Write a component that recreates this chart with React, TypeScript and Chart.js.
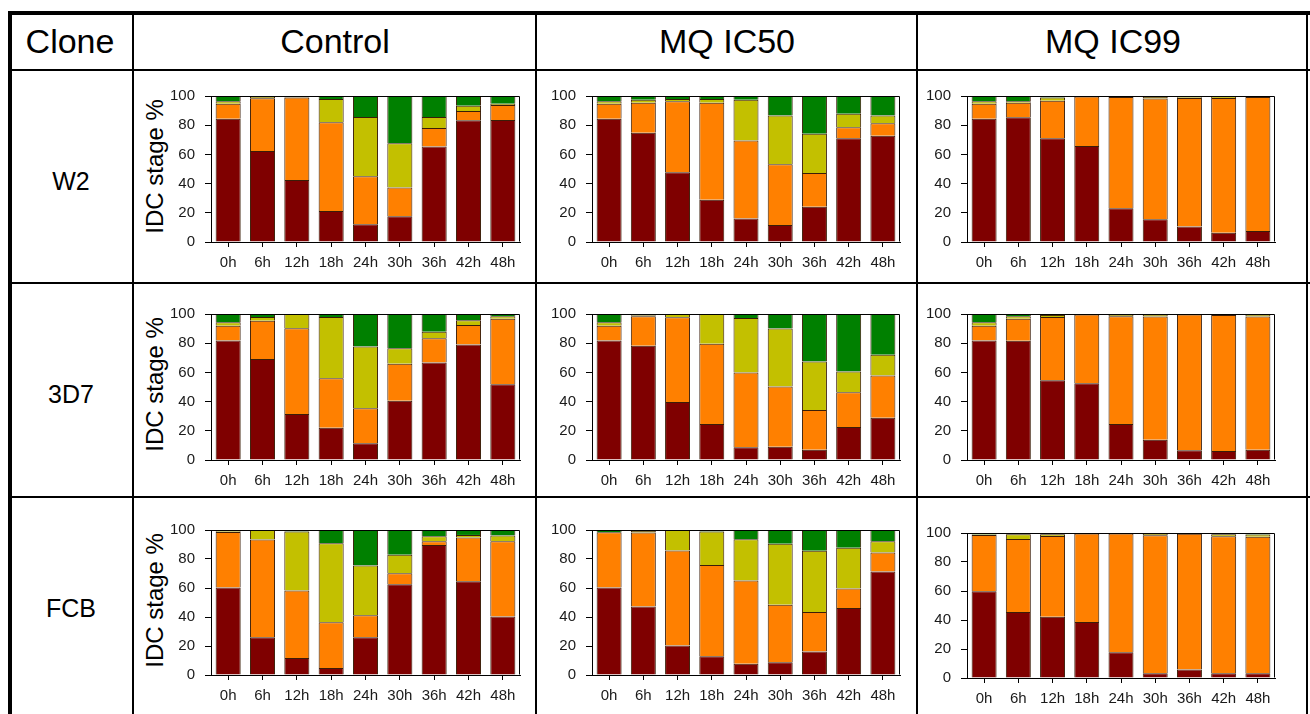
import { useEffect, useRef } from "react";
import { Chart, registerables } from "chart.js";

Chart.register(...registerables);

const FONT = "'Liberation Sans', Arial, Helvetica, sans-serif";

// Time points of the intraerythrocytic development cycle
const HOURS = ["0h", "6h", "12h", "18h", "24h", "30h", "36h", "42h", "48h"];
const Y_TICKS = [0, 20, 40, 60, 80, 100];

const CLONES = ["W2", "3D7", "FCB"];
const TREATMENTS = ["Control", "MQ IC50", "MQ IC99"];

// Stage colours (bottom to top of each stacked bar)
const RING_COLOR = "#7f0000";
const TROPH_COLOR = "#ff8000";
const SCHIZ_COLOR = "#c3c000";
const SEG_COLOR = "#008000";

// ---- W2 ----
const W2_CONTROL_RING = [84.5, 62.4, 42.5, 21.2, 12.1, 17.6, 65.4, 83.4, 83.6];
const W2_CONTROL_TROPH = [10.2, 36.1, 56.5, 60.8, 32.9, 19.8, 12.7, 6.4, 10.2];
const W2_CONTROL_SCHIZ = [1.7, 0.8, 0.3, 15.9, 40.6, 30.3, 7.5, 3.6, 0.9];
const W2_CONTROL_SEG = [3.6, 0.7, 0.7, 2.1, 14.4, 32.3, 14.4, 6.6, 5.3];

const W2_IC50_RING = [84.5, 74.9, 47.8, 28.9, 16.1, 11.7, 24.2, 71.1, 72.8];
const W2_IC50_TROPH = [10.2, 20.4, 48.6, 66.4, 53.5, 41.6, 23.1, 7.5, 8.5];
const W2_IC50_SCHIZ = [1.7, 2.2, 1.5, 2.6, 27.9, 33.3, 26.8, 9.3, 5.3];
const W2_IC50_SEG = [3.6, 2.5, 2.1, 2.1, 2.5, 13.4, 25.9, 12.1, 13.4];

const W2_IC99_RING = [84.5, 85.4, 71.1, 65.8, 23.1, 15.5, 10.6, 6.4, 7.6];
const W2_IC99_TROPH = [10.2, 9.9, 25.7, 33.8, 76.3, 82.8, 88.1, 92.3, 91.8];
const W2_IC99_SCHIZ = [1.7, 1.1, 2.2, 0.2, 0.3, 1.1, 0.5, 0.9, 0.3];
const W2_IC99_SEG = [3.6, 3.6, 1.0, 0.2, 0.3, 0.6, 0.8, 0.4, 0.3];

// ---- 3D7 ----
const D7_CONTROL_RING = [81.9, 69.1, 31.5, 22.1, 11.5, 40.6, 66.8, 79.1, 51.9];
const D7_CONTROL_TROPH = [10.0, 26.2, 58.7, 33.9, 24.0, 25.4, 16.6, 13.4, 44.9];
const D7_CONTROL_SCHIZ = [2.4, 2.6, 9.8, 41.9, 42.2, 10.6, 4.5, 3.2, 1.7];
const D7_CONTROL_SEG = [5.7, 2.1, 0, 2.1, 22.3, 23.4, 12.1, 4.3, 1.5];

const D7_IC50_RING = [81.9, 78.3, 39.8, 24.7, 8.7, 9.1, 7.0, 22.6, 28.9];
const D7_IC50_TROPH = [10.0, 20.2, 57.9, 54.9, 51.3, 41.3, 27.3, 23.8, 29.0];
const D7_IC50_SCHIZ = [2.4, 0.6, 2.3, 20.4, 37.2, 39.6, 33.1, 14.2, 14.2];
const D7_IC50_SEG = [5.7, 0.9, 0, 0, 2.8, 10.0, 32.6, 39.4, 27.9];

const D7_IC99_RING = [81.9, 81.7, 54.7, 52.6, 24.7, 13.8, 6.6, 6.2, 7.0];
const D7_IC99_TROPH = [10.0, 15.1, 43.2, 47.0, 73.8, 84.5, 93.0, 93.2, 91.3];
const D7_IC99_SCHIZ = [2.4, 1.7, 1.5, 0.2, 0.8, 1.3, 0.2, 0.3, 1.3];
const D7_IC99_SEG = [5.7, 1.5, 0.6, 0.2, 0.7, 0.4, 0.2, 0.3, 0.4];

// ---- FCB ----
const FCB_CONTROL_RING = [60.3, 26.1, 11.8, 4.9, 26.1, 62.6, 89.7, 64.7, 40.4];
const FCB_CONTROL_TROPH = [38.4, 67.3, 46.5, 31.4, 15.1, 7.5, 2.6, 30.2, 51.9];
const FCB_CONTROL_SCHIZ = [0.4, 6.6, 40.6, 54.5, 34.4, 12.8, 3.4, 1.7, 3.9];
const FCB_CONTROL_SEG = [0.9, 0, 1.1, 9.2, 24.4, 17.1, 4.3, 3.4, 3.8];

const FCB_IC50_RING = [60.3, 47.2, 20.3, 13.0, 7.7, 8.8, 16.2, 46.2, 71.4];
const FCB_IC50_TROPH = [38.2, 51.1, 65.6, 62.9, 57.5, 39.7, 27.2, 13.4, 13.0];
const FCB_IC50_SCHIZ = [0, 1.1, 14.1, 23.0, 28.4, 42.1, 42.3, 28.2, 7.9];
const FCB_IC50_SEG = [1.5, 0.6, 0, 1.1, 6.4, 9.4, 14.3, 12.2, 7.7];

const FCB_IC99_RING = [59.9, 45.6, 42.2, 38.6, 17.7, 3.2, 5.8, 3.2, 3.2];
const FCB_IC99_TROPH = [38.8, 50.3, 55.7, 61.0, 81.9, 95.3, 93.6, 94.5, 94.2];
const FCB_IC99_SCHIZ = [0.2, 3.2, 1.2, 0.2, 0.2, 1.1, 0.3, 1.4, 1.5];
const FCB_IC99_SEG = [1.1, 0.9, 0.9, 0.2, 0.2, 0.4, 0.3, 0.9, 1.1];

type Panel = {
  row: number;
  col: number;
  ring: number[];
  troph: number[];
  schiz: number[];
  seg: number[];
};

const PANELS: Panel[] = [
  { row: 0, col: 0, ring: W2_CONTROL_RING, troph: W2_CONTROL_TROPH, schiz: W2_CONTROL_SCHIZ, seg: W2_CONTROL_SEG },
  { row: 0, col: 1, ring: W2_IC50_RING, troph: W2_IC50_TROPH, schiz: W2_IC50_SCHIZ, seg: W2_IC50_SEG },
  { row: 0, col: 2, ring: W2_IC99_RING, troph: W2_IC99_TROPH, schiz: W2_IC99_SCHIZ, seg: W2_IC99_SEG },
  { row: 1, col: 0, ring: D7_CONTROL_RING, troph: D7_CONTROL_TROPH, schiz: D7_CONTROL_SCHIZ, seg: D7_CONTROL_SEG },
  { row: 1, col: 1, ring: D7_IC50_RING, troph: D7_IC50_TROPH, schiz: D7_IC50_SCHIZ, seg: D7_IC50_SEG },
  { row: 1, col: 2, ring: D7_IC99_RING, troph: D7_IC99_TROPH, schiz: D7_IC99_SCHIZ, seg: D7_IC99_SEG },
  { row: 2, col: 0, ring: FCB_CONTROL_RING, troph: FCB_CONTROL_TROPH, schiz: FCB_CONTROL_SCHIZ, seg: FCB_CONTROL_SEG },
  { row: 2, col: 1, ring: FCB_IC50_RING, troph: FCB_IC50_TROPH, schiz: FCB_IC50_SCHIZ, seg: FCB_IC50_SEG },
  { row: 2, col: 2, ring: FCB_IC99_RING, troph: FCB_IC99_TROPH, schiz: FCB_IC99_SCHIZ, seg: FCB_IC99_SEG },
];

// Plot-area placement inside the table grid
const COL_X: [number, number][] = [
  [211, 520],
  [592, 900],
  [967, 1275],
];
const ROW_Y: [number, number][] = [
  [85, 242],
  [303, 460],
  [519, 675],
];

const PAD_TOP = 8;
const PAD_RIGHT = 8;
const Y_AXIS_W = 50;
const X_AXIS_H = 34;

// Closes the plot box on the top and right sides
const framePlugin = {
  id: "plotFrame",
  afterDraw(chart: any) {
    const { ctx, chartArea: a } = chart;
    ctx.save();
    ctx.strokeStyle = "#000";
    ctx.lineWidth = 1;
    const l = Math.round(a.left) + 0.5;
    const t = Math.round(a.top) + 0.5;
    const r = Math.round(a.right) - 0.5;
    const b = Math.round(a.bottom) - 0.5;
    ctx.beginPath();
    ctx.moveTo(l, t);
    ctx.lineTo(r, t);
    ctx.lineTo(r, b);
    ctx.stroke();
    ctx.restore();
  },
};

function StageChart({ panel }: { panel: Panel }) {
  const ref = useRef<HTMLCanvasElement | null>(null);
  const [x0, x1] = COL_X[panel.col];
  let [y0, y1] = ROW_Y[panel.row];
  if (panel.row === 2 && panel.col === 2) {
    y0 += 3;
    y1 += 3;
  }
  const width = x1 - x0 + Y_AXIS_W + PAD_RIGHT;
  const height = y1 - y0 + PAD_TOP + X_AXIS_H;

  useEffect(() => {
    if (!ref.current) return;
    const border = "#3a1d08";
    const ds = (label: string, data: number[], color: string) => ({
      label,
      data,
      backgroundColor: color,
      borderColor: border,
      borderWidth: 1,
      barPercentage: 0.73,
      categoryPercentage: 1,
    });
    const chart = new Chart(ref.current, {
      type: "bar",
      data: {
        labels: HOURS,
        datasets: [
          ds("Ring", panel.ring, RING_COLOR),
          ds("Trophozoite", panel.troph, TROPH_COLOR),
          ds("Schizont", panel.schiz, SCHIZ_COLOR),
          ds("Segmenter", panel.seg, SEG_COLOR),
        ],
      },
      options: {
        animation: false,
        responsive: false,
        devicePixelRatio: 1,
        layout: { padding: { top: PAD_TOP, right: PAD_RIGHT, left: 0, bottom: 0 } },
        plugins: {
          legend: { display: false },
          tooltip: { enabled: false },
          title: { display: false },
        },
        scales: {
          x: {
            stacked: true,
            grid: {
              display: true,
              drawOnChartArea: false,
              drawTicks: true,
              tickLength: 5,
              offset: false,
              color: "#000",
            },
            border: { display: true, color: "#000", width: 1 },
            ticks: {
              color: "#1a1a1a",
              font: { family: FONT, size: 15 },
              padding: 7,
              maxRotation: 0,
              autoSkip: false,
            },
            afterFit: (s: any) => {
              s.height = X_AXIS_H;
            },
          },
          y: {
            stacked: true,
            min: 0,
            max: 100,
            afterBuildTicks: (s: any) => {
              s.ticks = Y_TICKS.map((v) => ({ value: v }));
            },
            grid: {
              display: true,
              drawOnChartArea: false,
              drawTicks: true,
              tickLength: 6,
              color: "#000",
            },
            border: { display: true, color: "#000", width: 1 },
            ticks: {
              color: "#1a1a1a",
              font: { family: FONT, size: 15 },
              padding: 10,
            },
            afterFit: (s: any) => {
              s.width = Y_AXIS_W;
            },
          },
        },
      },
      plugins: [framePlugin],
    });
    return () => chart.destroy();
  }, [panel]);

  return (
    <canvas
      ref={ref}
      width={width}
      height={height}
      style={{
        position: "absolute",
        left: x0 - Y_AXIS_W,
        top: y0 - PAD_TOP,
        width,
        height,
      }}
    />
  );
}

function Line({ x, y, w, h }: { x: number; y: number; w: number; h: number }) {
  return (
    <div
      style={{ position: "absolute", left: x, top: y, width: w, height: h, background: "#000" }}
    />
  );
}

function Label({
  text,
  cx,
  cy,
  size,
  rotate = false,
}: {
  text: string;
  cx: number;
  cy: number;
  size: number;
  rotate?: boolean;
}) {
  const w = 300;
  const h = size * 1.2;
  return (
    <div
      style={{
        position: "absolute",
        left: cx - w / 2,
        top: cy - h / 2,
        width: w,
        height: h,
        lineHeight: `${h}px`,
        fontSize: size,
        fontFamily: FONT,
        color: "#000",
        textAlign: "center",
        whiteSpace: "nowrap",
        transform: rotate ? "rotate(-90deg)" : undefined,
      }}
    >
      {text}
    </div>
  );
}

const HEADER_CX = [335, 727, 1113];
const ROW_CY = [181, 394, 608];

export default function App() {
  return (
    <div
      style={{
        position: "absolute",
        left: 0,
        top: 0,
        width: 1310,
        height: 714,
        overflow: "hidden",
        background: "#fff",
      }}
    >
      {/* table rules */}
      <Line x={8} y={11} w={1302} h={4} />
      <Line x={8} y={11} w={4} h={703} />
      <Line x={8} y={69} w={1302} h={2} />
      <Line x={8} y={282} w={1302} h={2} />
      <Line x={8} y={496} w={1302} h={2} />
      <Line x={132} y={11} w={2} h={703} />
      <Line x={535} y={11} w={2} h={703} />
      <Line x={916} y={11} w={2} h={703} />
      <Line x={1306} y={11} w={2} h={703} />

      <Label text="Clone" cx={70} cy={41} size={34} />
      {TREATMENTS.map((t, i) => (
        <Label key={t} text={t} cx={HEADER_CX[i]} cy={41} size={34} />
      ))}
      {CLONES.map((c, i) => (
        <Label key={c} text={c} cx={71} cy={ROW_CY[i]} size={25} />
      ))}
      {ROW_Y.map(([a, b], i) => (
        <Label key={i} text="IDC stage %" cx={155} cy={(a + b) / 2 + 3} size={24} rotate />
      ))}

      {PANELS.map((p, i) => (
        <StageChart key={i} panel={p} />
      ))}
    </div>
  );
}
